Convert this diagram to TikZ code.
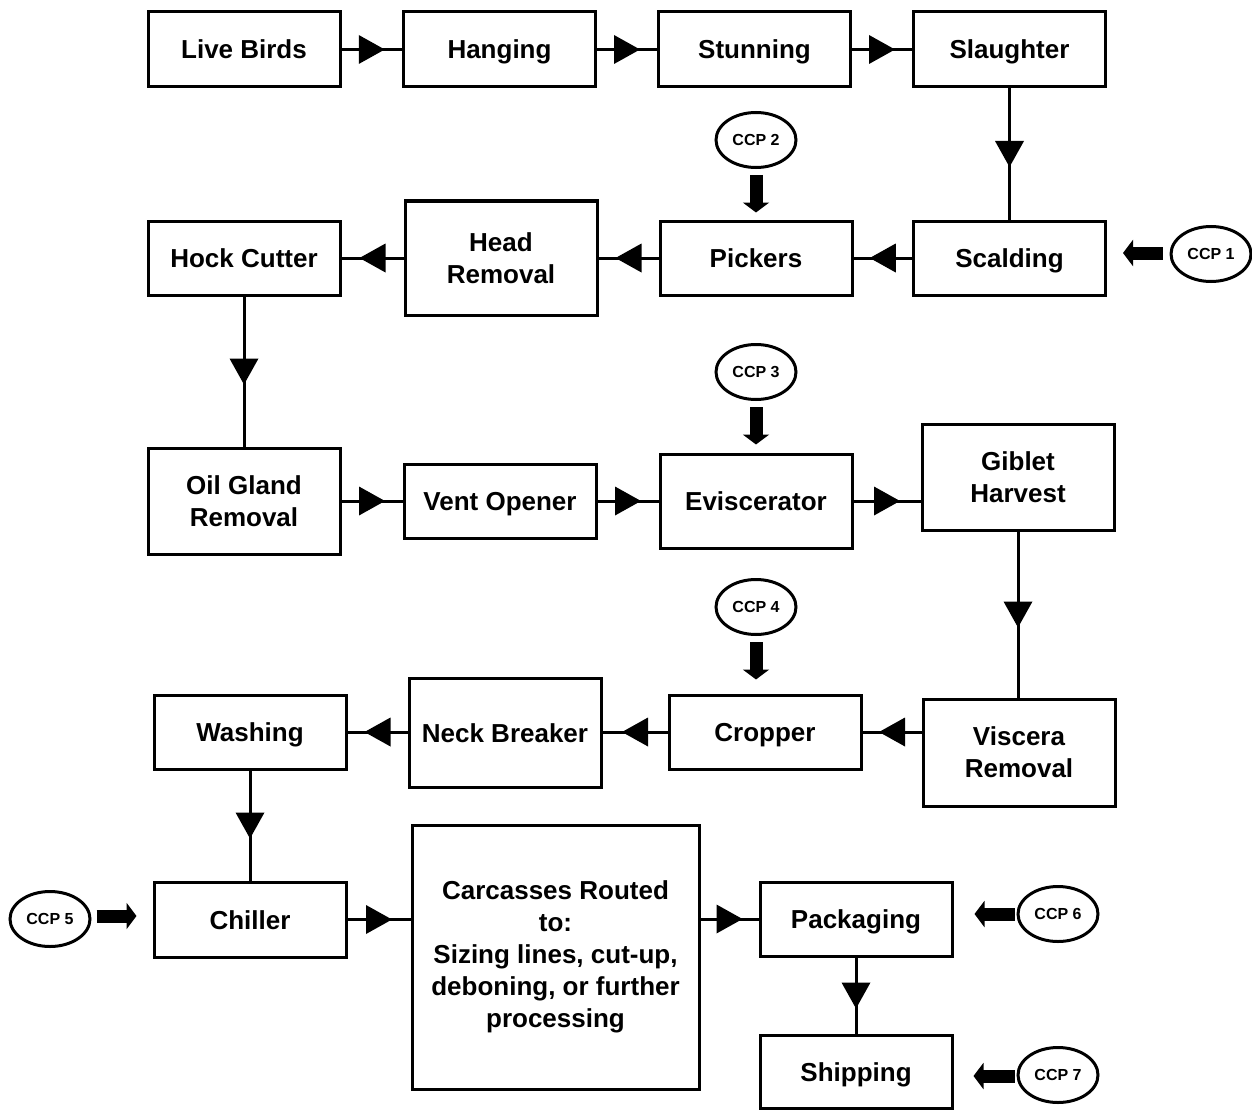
\documentclass[tikz,border=0pt]{standalone}
\usepackage{fontspec}
\setmainfont{Liberation Sans}
\usetikzlibrary{shapes.geometric,arrows.meta,decorations.markings}
\tikzset{
  box/.style={draw, line width=3pt, rectangle, minimum width=192pt, minimum height=74pt,
    align=center, inner sep=2pt, font=\fontsize{26}{32}\selectfont\bfseries},
  sbox/.style={box, text height=19pt, text depth=0pt},
  ccp/.style={draw, line width=3pt, ellipse, minimum width=80pt, minimum height=55pt,
    inner sep=0pt, font=\fontsize{16}{18}\selectfont\bfseries},
  flow/.style={line width=3pt, postaction={decorate},
    decoration={markings, mark=at position 0.5 with {\fill (13pt,0pt)--(-13pt,14.5pt)--(-13pt,-14.5pt)--cycle;}}},
  block/.style={line width=13pt, -{Triangle[length=10pt,width=26pt]}}
}
\begin{document}
\begin{tikzpicture}[x=1pt,y=-1pt]
\useasboundingbox[fill=white] (0,0) rectangle (1252,1110);
% row 1
\node[sbox, minimum height=75pt] (live) at (244,49.5) {Live Birds};
\node[sbox, minimum height=75pt] (hang) at (499.5,49.5) {Hanging};
\node[sbox, minimum height=75pt] (stun) at (754.5,49.5) {Stunning};
\node[sbox, minimum height=75pt] (slau) at (1009.5,49.5) {Slaughter};
% row 2
\node[sbox] (hock) at (244,258) {Hock Cutter};
\node[box, minimum height=114pt] (head) at (501,258) {Head\\Removal};
\node[sbox] (pick) at (756,258) {Pickers};
\node[sbox] (scal) at (1009.5,258) {Scalding};
% row 3
\node[box, minimum height=106pt] (oil) at (244,501) {Oil Gland\\Removal};
\node[sbox] (vent) at (500,501) {Vent Opener};
\node[sbox, minimum height=94pt] (evis) at (756,501) {Eviscerator};
\node[box, minimum height=106pt] (gibl) at (1018,477) {Giblet\\Harvest};
% row 4
\node[sbox] (wash) at (250,732) {Washing};
\node[sbox, minimum height=109pt] (neck) at (505,732.5) {Neck Breaker};
\node[sbox] (crop) at (765,732) {Cropper};
\node[box, minimum height=107pt] (visc) at (1019,752.5) {Viscera\\Removal};
% row 5
\node[sbox, minimum height=75pt] (chil) at (250,919.5) {Chiller};
\node[box, minimum width=287pt, minimum height=264pt] (carc) at (555.5,957) {Carcasses Routed\\to:\\Sizing lines, cut-up,\\deboning, or further\\processing};
\node[sbox] (pack) at (856,919) {Packaging};
\node[sbox, minimum height=73pt] (ship) at (856,1071.5) {Shipping};
% CCPs
\node[ccp] (ccp1) at (1211,254) {CCP 1};
\node[ccp] (ccp2) at (756,140) {CCP 2};
\node[ccp] (ccp3) at (756,372) {CCP 3};
\node[ccp] (ccp4) at (756,607) {CCP 4};
\node[ccp] (ccp5) at (50,919) {CCP 5};
\node[ccp] (ccp6) at (1058,914) {CCP 6};
\node[ccp] (ccp7) at (1058,1075) {CCP 7};
% flow connectors
\draw[flow] (live.east) -- (hang.west);
\draw[flow] (hang.east) -- (stun.west);
\draw[flow] (stun.east) -- (slau.west);
\draw[flow] (slau.south) -- (scal.north);
\draw[flow] (scal.west) -- (pick.east);
\draw[flow] (pick.west) -- (head.west -| head.east);
\draw[flow] (head.west) -- (hock.east);
\draw[flow] (hock.south) -- (oil.north);
\draw[flow] (oil.east) -- (vent.west);
\draw[flow] (vent.east) -- (evis.west);
\draw[flow] (evis.east) -- (evis.east -| gibl.west);
\draw[flow] (gibl.south) -- (gibl.south |- visc.north);
\draw[flow] (crop.east -| visc.west) -- (crop.east);
\draw[flow] (crop.west) -- (crop.west -| neck.east);
\draw[flow] (crop.west -| neck.west) -- (wash.east);
\draw[flow] (wash.south) -- (chil.north);
\draw[flow] (chil.east) -- (chil.east -| carc.west);
\draw[flow] (pack.west -| carc.east) -- (pack.west);
\draw[flow] (pack.south) -- (ship.north);
% CCP block arrows
\draw[block, shorten <=7pt, shorten >=16pt] ([yshift=1pt]ccp1.west) -- ([yshift=1pt]ccp1.west -| scal.east);
\draw[block, shorten <=6pt, shorten >=7pt] (ccp2.south) -- (pick.north);
\draw[block, shorten <=6pt, shorten >=8pt] (ccp3.south) -- (evis.north);
\draw[block, shorten <=6pt, shorten >=14pt] (ccp4.south) -- (ccp4.south |- crop.north);
\draw[block, shorten <=5pt, shorten >=16pt] ([yshift=3pt]ccp5.east) -- ([yshift=3pt]ccp5.east -| chil.west);
\draw[block, shorten <=2pt, shorten >=21pt] (ccp6.west) -- (ccp6.west -| pack.east);
\draw[block, shorten <=2pt, shorten >=20pt] ([yshift=-1pt]ccp7.west) -- ([yshift=-1pt]ccp7.west -| ship.east);
\end{tikzpicture}
\end{document}
